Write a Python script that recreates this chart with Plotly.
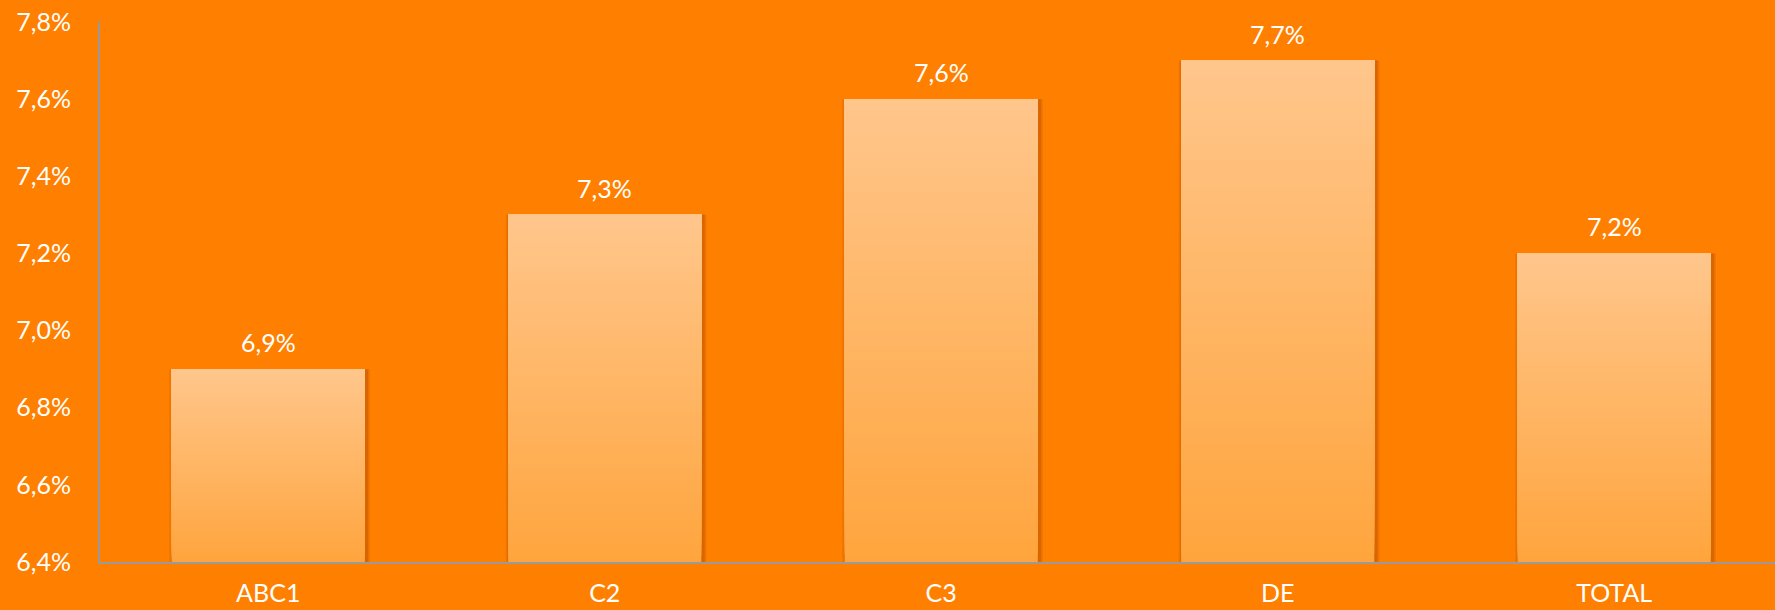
import plotly.graph_objects as go

categories = ["ABC1", "C2", "C3", "DE", "TOTAL"]
values = [6.9, 7.3, 7.6, 7.7, 7.2]
value_labels = ["6,9%", "7,3%", "7,6%", "7,7%", "7,2%"]
y_ticks = [6.4, 6.6, 6.8, 7.0, 7.2, 7.4, 7.6, 7.8]
y_tick_labels = ["6,4%", "6,6%", "6,8%", "7,0%", "7,2%", "7,4%", "7,6%", "7,8%"]

BASE = 6.4
BAR_W = 0.574
TOP_C = (255, 198, 139)
BOT_C = (255, 165, 62)
BG = "#FF7F00"
FONT = "Lato"
FW = 400
FS = 25

fig = go.Figure()

# soft shadow behind bars (two layers)
for extra, shift, col in [(0.022, 0.004, "rgba(225,108,0,0.55)"),
                          (0.012, 0.004, "rgba(210,98,0,0.75)")]:
    fig.add_trace(go.Bar(
        x=categories, y=[v - BASE for v in values], base=BASE,
        width=BAR_W + extra, offset=-(BAR_W + extra) / 2 + shift,
        marker=dict(color=col, line=dict(width=0)),
        hoverinfo="skip", showlegend=False,
    ))

# gradient fill: overlaid layers, each from a rising base to the bar top
N = 60
for i in range(N):
    t = i / (N - 1)
    col = tuple(round(BOT_C[k] + (TOP_C[k] - BOT_C[k]) * t) for k in range(3))
    bases = [BASE + (v - BASE) * i / N for v in values]
    fig.add_trace(go.Bar(
        x=categories, y=[v - b for v, b in zip(values, bases)], base=bases,
        width=BAR_W, offset=-BAR_W / 2,
        marker=dict(color="rgb(%d,%d,%d)" % col, line=dict(width=0)),
        hoverinfo="skip", showlegend=False,
    ))

for c, v, lab in zip(categories, values, value_labels):
    fig.add_annotation(x=c, y=v, text=lab, showarrow=False, yanchor="bottom",
                       yshift=10, font=dict(family=FONT, size=FS, color="white", weight=FW))

fig.update_layout(
    width=1775, height=610,
    paper_bgcolor=BG, plot_bgcolor=BG,
    barmode="overlay",
    margin=dict(l=100, r=0, t=22, b=48),
    font=dict(family=FONT, size=FS, color="white", weight=FW),
    showlegend=False,
)
fig.update_xaxes(
    range=[-0.5, 4.478], showgrid=False, zeroline=False,
    showline=True, linecolor="#9a9a9a", linewidth=2,
    ticks="", ticklabelstandoff=8, automargin=False,
    tickfont=dict(family=FONT, size=FS, color="white", weight=FW),
)
fig.update_yaxes(
    range=[BASE, 7.8], tickvals=y_ticks, ticktext=y_tick_labels,
    showgrid=False, zeroline=False,
    showline=True, linecolor="#9a9a9a", linewidth=2,
    ticks="", ticklabelstandoff=22, automargin=False,
    tickfont=dict(family=FONT, size=FS, color="white", weight=FW),
)

fig.write_html("out.html", config={"displayModeBar": False},
               post_script="document.body.style.margin='0';document.body.style.overflow='hidden';")
